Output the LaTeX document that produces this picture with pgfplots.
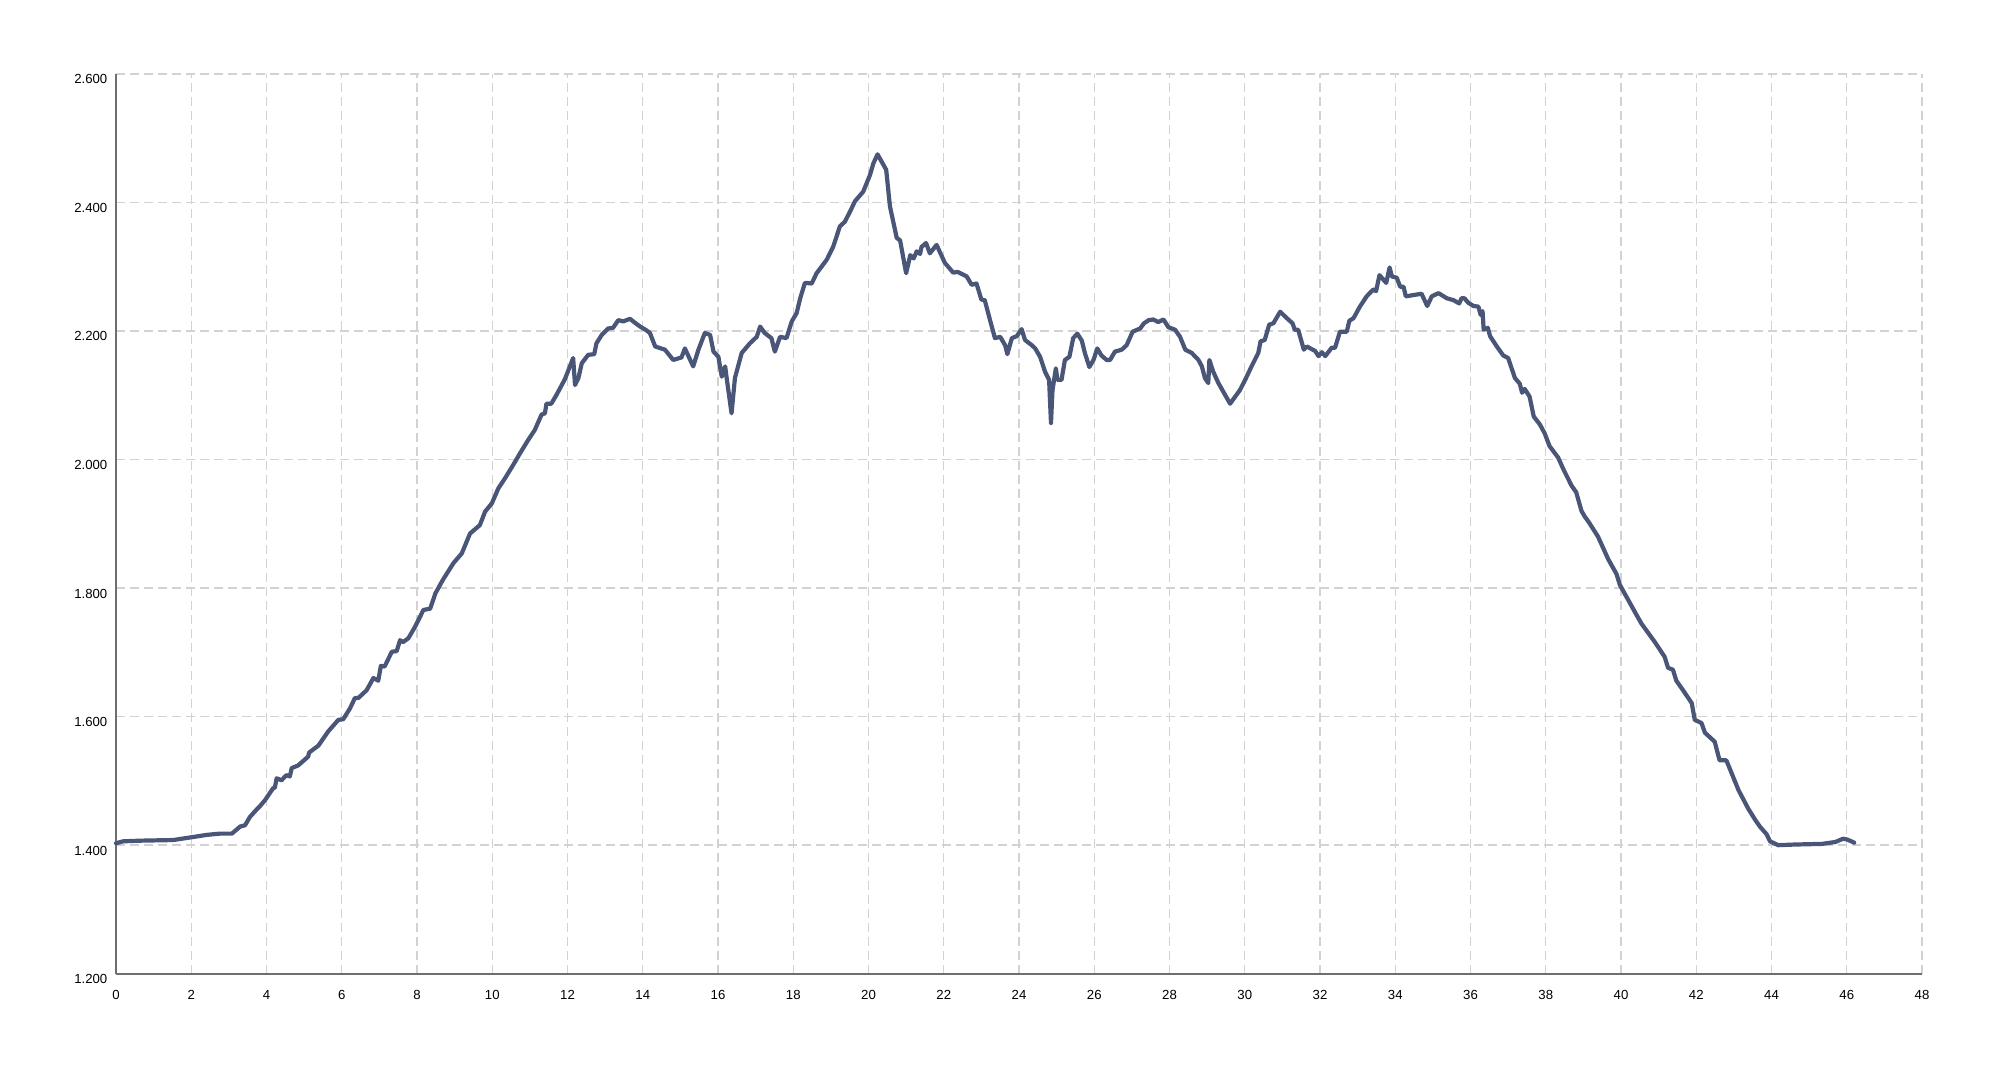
\documentclass[border=0pt]{standalone}
\usepackage{pgfplots}
\pgfplotsset{compat=1.18}
\usepackage{fontspec}
\setmainfont{Liberation Sans}
\definecolor{lineblue}{HTML}{4A5677}
\definecolor{gridgray}{HTML}{D2D2D2}
\definecolor{axisgray}{HTML}{6E6E6E}
\begin{document}
\begin{tikzpicture}
\path[use as bounding box] (0,0) rectangle (200.4mm,108.5mm);
\begin{axis}[
  at={(11.6mm,11.13mm)}, anchor=south west,
  scale only axis, width=180.6mm, height=89.97mm,
  xmin=0, xmax=48, ymin=1200, ymax=2600,
  xtick={0,2,...,48},
  ytick={1200,1400,1600,1800,2000,2200,2400,2600},
  yticklabels={1.200,1.400,1.600,1.800,2.000,2.200,2.400,2.600},
  axis x line=bottom, axis y line=left,
  axis line style={-, color=axisgray, line width=0.2mm},
  major tick length=0pt,
  grid=major,
  major grid style={color=gridgray, line width=0.14mm, dash pattern=on 0.85mm off 0.55mm},
  tick label style={font=\fontsize{3.75}{4}\selectfont, text=black},
  /pgf/number format/assume math mode=true,
  yticklabel style={anchor=north east, inner sep=0pt, xshift=-0.8mm},
  xticklabel style={anchor=north, inner sep=0pt, yshift=-1.6mm},
  clip=false,
]
\addplot[lineblue, line width=0.42mm, line join=round, line cap=round] coordinates {
(0,1403) (0.19,1406) (0.64,1407) (1.52,1408) (1.97,1412) (2.41,1416) (2.76,1418) (3.08,1418)
(3.30,1429) (3.43,1431) (3.56,1444) (3.73,1455) (3.83,1461) (3.96,1470) (4.18,1489) (4.22,1489)
(4.27,1504) (4.40,1501) (4.53,1509) (4.62,1507) (4.67,1520) (4.84,1524) (5.11,1538) (5.13,1544)
(5.38,1555) (5.64,1577) (5.91,1595) (6.04,1596) (6.22,1613) (6.35,1629) (6.44,1629) (6.66,1641)
(6.84,1660) (6.97,1656) (7.04,1679) (7.14,1678) (7.33,1701) (7.46,1702) (7.55,1719) (7.63,1716)
(7.77,1722) (7.95,1740) (8.17,1766) (8.35,1768) (8.49,1792) (8.66,1810) (8.70,1814) (8.97,1839)
(9.19,1854) (9.41,1885) (9.67,1898) (9.81,1919) (9.99,1932) (10.16,1955) (10.34,1971) (10.56,1992)
(10.74,2010) (10.96,2031) (11.13,2046) (11.31,2070) (11.40,2072) (11.44,2087) (11.57,2087) (11.71,2101)
(11.93,2125) (12.15,2158) (12.20,2116) (12.29,2127) (12.38,2150) (12.55,2163) (12.71,2164) (12.77,2181)
(12.91,2194) (13.08,2204) (13.21,2205) (13.35,2217) (13.48,2215) (13.66,2219) (13.79,2213) (13.93,2207)
(14.10,2201) (14.19,2197) (14.33,2176) (14.59,2171) (14.81,2155) (15.03,2159) (15.12,2173) (15.34,2145)
(15.48,2171) (15.65,2197) (15.79,2194) (15.88,2168) (16.01,2160) (16.10,2129) (16.19,2145) (16.23,2127)
(16.36,2072) (16.45,2127) (16.63,2166) (16.85,2181) (17.03,2191) (17.12,2207) (17.24,2197) (17.42,2189)
(17.51,2168) (17.65,2191) (17.82,2189) (17.96,2215) (18.09,2228) (18.18,2250) (18.31,2275) (18.49,2274)
(18.62,2290) (18.75,2300) (18.89,2311) (19.06,2331) (19.24,2363) (19.37,2370) (19.51,2386) (19.64,2402)
(19.86,2417) (20.04,2443) (20.13,2461) (20.24,2475) (20.47,2451) (20.57,2394) (20.75,2345) (20.84,2341)
(21.00,2290) (21.11,2318) (21.20,2313) (21.28,2324) (21.37,2320) (21.41,2331) (21.53,2337) (21.63,2321)
(21.81,2334) (22.03,2306) (22.25,2291) (22.37,2292) (22.61,2285) (22.74,2272) (22.87,2274) (23.00,2249)
(23.09,2248) (23.23,2217) (23.36,2189) (23.50,2191) (23.63,2178) (23.69,2164) (23.81,2189) (23.94,2192)
(24.07,2203) (24.16,2186) (24.34,2178) (24.43,2173) (24.56,2160) (24.69,2137) (24.80,2124) (24.85,2057)
(24.89,2108) (24.98,2142) (25.02,2124) (25.13,2124) (25.22,2155) (25.34,2160) (25.44,2189) (25.55,2196)
(25.67,2185) (25.75,2166) (25.87,2144) (25.98,2155) (26.08,2173) (26.19,2162) (26.33,2155) (26.42,2155)
(26.55,2168) (26.73,2171) (26.86,2178) (27.02,2199) (27.22,2204) (27.32,2212) (27.45,2217) (27.57,2218)
(27.70,2214) (27.84,2218) (27.97,2206) (28.15,2202) (28.28,2191) (28.42,2171) (28.59,2166) (28.77,2155)
(28.86,2145) (28.94,2127) (29.03,2119) (29.06,2155) (29.16,2137) (29.30,2119) (29.61,2087) (29.87,2108)
(30.01,2124) (30.18,2145) (30.36,2166) (30.42,2184) (30.53,2186) (30.65,2210) (30.76,2212) (30.94,2230)
(31.12,2220) (31.27,2212) (31.33,2202) (31.42,2202) (31.57,2171) (31.65,2176) (31.87,2169) (31.96,2161)
(32.05,2167) (32.14,2161) (32.31,2174) (32.40,2174) (32.53,2199) (32.71,2199) (32.78,2216) (32.89,2220)
(33.06,2238) (33.24,2254) (33.42,2265) (33.49,2262) (33.58,2287) (33.76,2275) (33.85,2299) (33.91,2285)
(34.04,2283) (34.13,2269) (34.22,2269) (34.28,2254) (34.48,2256) (34.70,2258) (34.85,2239) (34.97,2254)
(35.15,2259) (35.37,2251) (35.55,2248) (35.70,2243) (35.76,2251) (35.84,2251) (35.94,2244) (36.08,2239)
(36.21,2238) (36.27,2225) (36.32,2231) (36.35,2202) (36.46,2205) (36.52,2192) (36.70,2176) (36.87,2162)
(37.00,2158) (37.18,2127) (37.31,2118) (37.37,2104) (37.44,2110) (37.57,2098) (37.68,2067) (37.84,2055)
(37.97,2041) (38.10,2021) (38.33,2003) (38.46,1986) (38.68,1960) (38.81,1949) (38.95,1920) (39.04,1911)
(39.14,1903) (39.39,1880) (39.66,1845) (39.88,1822) (39.97,1805) (40.32,1768) (40.54,1745) (40.90,1716)
(41.16,1693) (41.25,1676) (41.38,1673) (41.47,1656) (41.65,1641) (41.88,1621) (41.96,1595) (42.14,1590)
(42.23,1575) (42.49,1561) (42.62,1532) (42.80,1532) (42.94,1512) (43.12,1486) (43.38,1457) (43.56,1440)
(43.69,1429) (43.87,1417) (43.96,1406) (44.18,1400) (44.62,1401) (45.34,1402) (45.70,1405) (45.90,1410)
(46.00,1409) (46.20,1404)
};
\end{axis}
\end{tikzpicture}
\end{document}
